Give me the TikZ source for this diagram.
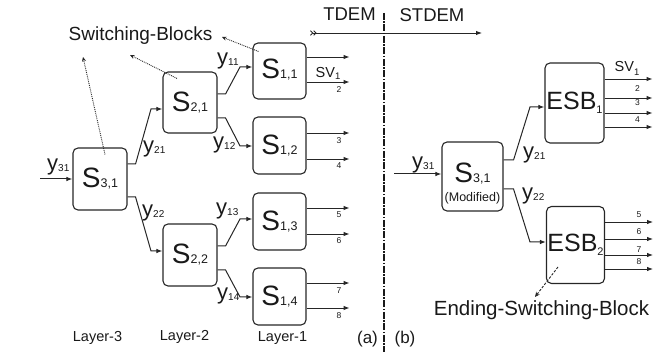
\documentclass[tikz,border=0pt]{standalone}
\usepackage{fontspec}
\setmainfont{Liberation Sans}
\usetikzlibrary{arrows.meta,calc}
\newcommand\fs[1]{\fontsize{#1}{#1}\selectfont}
\newcommand\Sx[1]{{\fs{28}S}{\fs{12.5}#1}}
\newcommand\Ex[1]{{\fs{25}ESB}\raisebox{-4pt}{\fs{11}#1}}
\newcommand\ylab[1]{{\fs{22}y}\raisebox{-1.5pt}{\fs{10}#1}}
\newcommand\svlab[1]{{\fs{14.5}SV}\raisebox{-#1}{\fs{9.5}1}}
\begin{document}
\begin{tikzpicture}[x=1pt,y=-1pt,
  every node/.style={text=black!90},
  blk/.style={draw=black!85, line width=1.1pt, rounded corners=5pt, inner sep=0pt,
              minimum width=53pt, minimum height=56pt},
  con/.style={draw=black!85, line width=1pt, -{Latex[length=6pt,width=4.5pt]}},
  outl/.style={draw=black!85, line width=0.9pt, -{Latex[length=6pt,width=4.5pt]}},
  num/.style={font=\fs{8.5}, inner sep=0pt},
  ylb/.style={anchor=base west, inner sep=0pt},
  dotarr/.style={draw=black!85, line width=0.9pt, densely dotted, -{Stealth[length=4.5pt,width=4pt]}},
  dasharr/.style={draw=black!85, line width=0.9pt, dashed, dash pattern=on 2.5pt off 1.5pt, -{Stealth[length=5pt,width=4.5pt]}},
  divline/.style={draw=black!90, line width=1.8pt, dash pattern=on 7pt off 1.5pt on 1.5pt off 1.5pt}
]
\useasboundingbox (0,0) rectangle (670,352);

% ---------------- (a) TDEM ----------------
\node[blk, minimum width=54pt, minimum height=62pt] (s31) at (100,179) {\Sx{3,1}};
\node[blk, minimum width=54pt, minimum height=61pt] (s21) at (190,102.5) {\raisebox{2pt}{\Sx{2,1}}};
\node[blk, minimum width=54pt, minimum height=62pt] (s22) at (190,255) {\Sx{2,2}};
\node[blk, minimum height=56pt] (s11) at (279.5,71) {\raisebox{4pt}{\Sx{1,1}}};
\node[blk, minimum height=57pt] (s12) at (279.5,145.5) {\Sx{1,2}};
\node[blk, minimum height=57pt] (s13) at (279.5,221.5) {\Sx{1,3}};
\node[blk, minimum height=57pt] (s14) at (279.5,296.5) {\Sx{1,4}};

\coordinate (in31) at (40,179);
\draw[con] (in31) -- (s31.west);
\node[ylb] (ly31) at (47,170.5) {\ylab{31}};

\draw[con] (s31.east |- 0,164) -- ++(8,0) -- (151,109) -- (s21.west |- 0,109);
\draw[con] (s31.east |- 0,197) -- ++(8,0) -- (151,251) -- (s22.west |- 0,251);
\node[ylb] (ly21) at (143,152.5) {\ylab{21}};
\node[ylb] (ly22) at (142,216.5) {\ylab{22}};

\draw[con] (s21.east |- 0,94) -- ++(8,0) -- (240,67) -- (s11.west |- 0,67);
\draw[con] (s21.east |- 0,118) -- ++(8,0) -- (240,146) -- (s12.west |- 0,146);
\draw[con] (s22.east |- 0,246) -- ++(8,0) -- (240,219) -- (s13.west |- 0,219);
\draw[con] (s22.east |- 0,270) -- ++(8,0) -- (240,297) -- (s14.west |- 0,297);
\node[ylb] (ly11) at (217,64.5) {\ylab{11}};
\node[ylb] (ly12) at (213,148.5) {\ylab{12}};
\node[ylb] (ly13) at (216,214.5) {\ylab{13}};
\node[ylb] (ly14) at (217,299.5) {\ylab{14}};

\draw[outl] (s11.east |- 0,57) -- ++(43,0);
\draw[outl] (s11.east |- 0,82) -- ++(43,0);
\draw[outl] (s12.east |- 0,133) -- ++(43,0);
\draw[outl] (s12.east |- 0,159) -- ++(43,0);
\draw[outl] (s13.east |- 0,208) -- ++(43,0);
\draw[outl] (s13.east |- 0,234) -- ++(43,0);
\draw[outl] (s14.east |- 0,283) -- ++(43,0);
\draw[outl] (s14.east |- 0,308) -- ++(43,0);
\node[ylb] (sva) at (315.5,78) {\svlab{2pt}};
\node[num] (na2) at (339,90) {2};
\node[num] (na3) at (339,141) {3};
\node[num] (na4) at (339,166) {4};
\node[num] (na5) at (339,215) {5};
\node[num] (na6) at (339,241) {6};
\node[num] (na7) at (339,291) {7};
\node[num] (na8) at (339,316) {8};

\node[font=\fs{19}, inner sep=0pt] (sb) at (140.5,36) {Switching-Blocks};
\coordinate (sbA) at (83,57);
\coordinate (sbB) at (130,55);
\coordinate (sbC) at (222,37);
\draw[dotarr] ($(s31.north)+(5,7)$) -- (sbA);
\draw[dotarr] ($(s21.north)+(-13,7)$) -- (sbB);
\draw[dotarr] ($(s11.north west)+(6,9)$) -- (sbC);

\node[font=\fs{14.5}, inner sep=0pt] (l3) at (97.5,338) {Layer-3};
\node[font=\fs{14.5}, inner sep=0pt] (l2) at (184.5,337) {Layer-2};
\node[font=\fs{14.5}, inner sep=0pt] (l1) at (282.5,338) {Layer-1};

% ---------------- divider ----------------
\node[font=\fs{18.5}, inner sep=0pt] (tdem) at (349.5,14) {TDEM};
\node[font=\fs{18.5}, inner sep=0pt] (stdem) at (432,15) {STDEM};
\coordinate (tA) at (310,33);
\coordinate (tB) at (482,33);
\draw[line width=0.9pt, draw=black!85,
  {Straight Barb[reversed,length=2.2pt,width=4.5pt]Straight Barb[reversed,length=2.2pt,width=4.5pt]}-{Latex[length=6pt,width=4.5pt]}] (tA) -- (tB);
\coordinate (dA) at (384,13);
\coordinate (dB) at (384,352);
\draw[divline] (dA) -- (dB);
\node[font=\fs{17}, inner sep=0pt] (la) at (367.5,339) {(a)};
\node[font=\fs{17}, inner sep=0pt] (lb) at (405,339) {(b)};

% ---------------- (b) STDEM ----------------
\node[blk, minimum width=61pt, minimum height=69pt] (s31m) at (472.5,176.5) {\raisebox{8pt}{\Sx{3,1}}};
\node[font=\fs{12.5}, inner sep=0pt] (modf) at (472.5,198) {(Modified)};
\node[blk, minimum width=59pt, minimum height=80pt] (esb1) at (574.5,103) {\raisebox{4pt}{\Ex{1}}};
\node[blk, minimum width=58pt, minimum height=77pt] (esb2) at (575.5,245) {\raisebox{2pt}{\Ex{2}}};

\coordinate (in31r) at (394,174);
\draw[con] (in31r) -- (s31m.west |- 0,174);
\node[ylb] (ry31) at (412,168.5) {\ylab{31}};

\draw[con] (s31m.east |- 0,160) -- ++(10,0) -- (530,107) -- (esb1.west |- 0,107);
\draw[con] (s31m.east |- 0,189) -- ++(10,0) -- (530,242) -- (esb2.west |- 0,242);
\node[ylb] (ry21) at (523,158.5) {\ylab{21}};
\node[ylb] (ry22) at (522,199.5) {\ylab{22}};

\draw[outl] (esb1.east |- 0,79) -- ++(48,0);
\draw[outl] (esb1.east |- 0,98) -- ++(48,0);
\draw[outl] (esb1.east |- 0,113) -- ++(48,0);
\draw[outl] (esb1.east |- 0,127) -- ++(48,0);
\draw[outl] (esb2.east |- 0,222) -- ++(48,0);
\draw[outl] (esb2.east |- 0,239) -- ++(48,0);
\draw[outl] (esb2.east |- 0,255) -- ++(48,0);
\draw[outl] (esb2.east |- 0,269) -- ++(48,0);
\node[ylb] (svb) at (614.5,72) {\svlab{4pt}};
\node[num] (nb2) at (637.5,89) {2};
\node[num] (nb3) at (637.5,103) {3};
\node[num] (nb4) at (637.5,120) {4};
\node[num] (nb5) at (639,215) {5};
\node[num] (nb6) at (639,231.5) {6};
\node[num] (nb7) at (639,250) {7};
\node[num] (nb8) at (639,261.5) {8};

\node[font=\fs{20.5}, inner sep=0pt] (esbt) at (541.5,310) {Ending-Switching-Block};
\coordinate (eA) at (535,297);
\draw[dasharr] ($(esb2.center)+(-17.5,22)$) -- (eA);
\end{tikzpicture}
\end{document}
